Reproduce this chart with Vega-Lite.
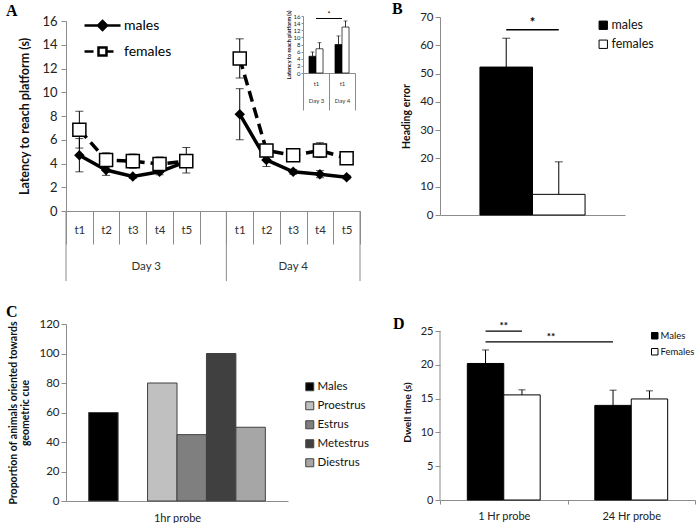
{
  "$schema": "https://vega.github.io/schema/vega-lite/v6.json",
  "background": "white",
  "padding": {"left": 6, "top": 0, "right": 0, "bottom": 0},
  "config": {
    "font": "Lato",
    "view": {"stroke": null},
    "axis": {"grid": false, "domainColor": "#8c8c8c", "tickColor": "#8c8c8c", "labelColor": "#222222", "titleColor": "#111111", "labelFont": "Lato", "titleFont": "Lato", "labelOverlap": false},
    "legend": {"labelFont": "Lato", "labelColor": "#111111"},
    "text": {"font": "Lato"}
  },
  "columns": 2,
  "spacing": {"row": 109, "column": 80},
  "bounds": "flush",
  "align": "each",
  "center": {"row": true},
  "resolve": {"scale": {"fill": "independent", "shape": "independent", "xOffset": "independent", "stroke": "independent"}, "legend": {"fill": "independent", "shape": "independent", "stroke": "independent"}},
  "concat": [
    {
      "title": {"text": "A", "anchor": "start", "frame": "group", "dx": -60, "offset": -9, "fontSize": 16, "font": "Liberation Serif", "fontWeight": "bold"},
      "width": 294,
      "height": 190,
      "resolve": {"scale": {"x": "independent", "y": "independent"}, "axis": {"x": "independent", "y": "independent"}},
      "layer": [
        {
          "data": {"values": [
            {"slot": "3|t1", "day": "3", "sex": "males", "v": 4.7, "lo": 3.3, "hi": 6.1},
            {"slot": "3|t2", "day": "3", "sex": "males", "v": 3.45, "lo": 3.0, "hi": 3.9},
            {"slot": "3|t3", "day": "3", "sex": "males", "v": 2.9, "lo": 2.75, "hi": 3.05},
            {"slot": "3|t4", "day": "3", "sex": "males", "v": 3.3, "lo": 3.05, "hi": 3.55},
            {"slot": "3|t5", "day": "3", "sex": "males", "v": 4.15, "lo": 3.7, "hi": 4.6},
            {"slot": "4|t1", "day": "4", "sex": "males", "v": 8.15, "lo": 6.0, "hi": 10.3},
            {"slot": "4|t2", "day": "4", "sex": "males", "v": 4.3, "lo": 3.75, "hi": 4.85},
            {"slot": "4|t3", "day": "4", "sex": "males", "v": 3.3, "lo": 3.1, "hi": 3.5},
            {"slot": "4|t4", "day": "4", "sex": "males", "v": 3.1, "lo": 2.8, "hi": 3.4},
            {"slot": "4|t5", "day": "4", "sex": "males", "v": 2.85, "lo": 2.7, "hi": 3.0},
            {"slot": "3|t1", "day": "3", "sex": "females", "v": 6.85, "lo": 5.3, "hi": 8.4},
            {"slot": "3|t2", "day": "3", "sex": "females", "v": 4.3, "lo": 3.7, "hi": 4.9},
            {"slot": "3|t3", "day": "3", "sex": "females", "v": 4.2, "lo": 3.6, "hi": 4.8},
            {"slot": "3|t4", "day": "3", "sex": "females", "v": 3.95, "lo": 3.35, "hi": 4.55},
            {"slot": "3|t5", "day": "3", "sex": "females", "v": 4.2, "lo": 3.2, "hi": 5.35},
            {"slot": "4|t1", "day": "4", "sex": "females", "v": 12.85, "lo": 11.2, "hi": 14.5},
            {"slot": "4|t2", "day": "4", "sex": "females", "v": 5.1, "lo": 4.7, "hi": 5.5},
            {"slot": "4|t3", "day": "4", "sex": "females", "v": 4.7, "lo": 4.5, "hi": 4.9},
            {"slot": "4|t4", "day": "4", "sex": "females", "v": 5.1, "lo": 4.5, "hi": 5.75},
            {"slot": "4|t5", "day": "4", "sex": "females", "v": 4.45, "lo": 4.25, "hi": 4.65}
          ]},
          "layer": [
            {
              "mark": {"type": "rule", "color": "black", "strokeWidth": 1},
              "encoding": {
                "x": {"field": "slot", "type": "nominal", "sort": null,
                  "scale": {"domain": ["3|t1", "3|t2", "3|t3", "3|t4", "3|t5", "3|", "4|t1", "4|t2", "4|t3", "4|t4", "4|t5"], "paddingInner": 0, "paddingOuter": 0},
                  "axis": {"title": null, "tickBand": "extent", "tickSize": 33, "labelExpr": "datum.value ? split(datum.value, '|')[1] : ''", "labelPadding": -14, "labelBaseline": "middle", "labelAngle": 0, "labelFontSize": 11.5, "labelColor": "#333333"}},
                "y": {"field": "lo", "type": "quantitative", "scale": {"domain": [0, 16.001], "nice": false},
                  "axis": {"tickCount": 9, "values": [0, 2, 4, 6, 8, 10, 12, 14, 16], "title": "Latency to reach platform (s)", "titleFontSize": 12.5, "titleFontWeight": "bold", "titlePadding": 10, "labelFontSize": 13, "tickSize": 5, "labelPadding": 4}},
                "y2": {"field": "hi"}
              }
            },
            {
              "mark": {"type": "tick", "color": "black", "thickness": 1, "size": 8},
              "encoding": {"x": {"field": "slot", "type": "nominal"}, "y": {"field": "lo", "type": "quantitative"}}
            },
            {
              "mark": {"type": "tick", "color": "black", "thickness": 1, "size": 8},
              "encoding": {"x": {"field": "slot", "type": "nominal"}, "y": {"field": "hi", "type": "quantitative"}}
            },
            {
              "transform": [{"filter": "datum.sex === 'males'"}],
              "mark": {"type": "line", "color": "black", "strokeWidth": 3.5},
              "encoding": {"x": {"field": "slot", "type": "nominal"}, "y": {"field": "v", "type": "quantitative"}, "detail": {"field": "day"}}
            },
            {
              "transform": [{"filter": "datum.sex === 'females'"}],
              "mark": {"type": "line", "color": "black", "strokeWidth": 3.5, "strokeDash": [11, 6]},
              "encoding": {"x": {"field": "slot", "type": "nominal"}, "y": {"field": "v", "type": "quantitative"}, "detail": {"field": "day"}}
            },
            {
              "transform": [{"filter": "datum.sex === 'males'"}],
              "mark": {"type": "point", "shape": "diamond", "filled": true, "color": "black", "opacity": 1, "size": 110},
              "encoding": {"x": {"field": "slot", "type": "nominal"}, "y": {"field": "v", "type": "quantitative"}}
            },
            {
              "transform": [{"filter": "datum.sex === 'females'"}],
              "mark": {"type": "point", "shape": "square", "filled": true, "fill": "white", "stroke": "black", "strokeWidth": 1.5, "opacity": 1, "size": 170},
              "encoding": {"x": {"field": "slot", "type": "nominal"}, "y": {"field": "v", "type": "quantitative"}}
            },
            {
              "transform": [{"filter": "false"}],
              "mark": {"type": "point", "filled": true, "strokeWidth": 2.5, "opacity": 1},
              "encoding": {
                "x": {"field": "slot", "type": "nominal"},
                "y": {"field": "v", "type": "quantitative"},
                "shape": {"field": "sex", "type": "nominal", "scale": {"domain": ["males", "females"], "range": ["M-4.83,0H1.17M-1.83,-0.75L-1.08,0L-1.83,0.75L-2.58,0Z", "M-4.83,0H-3.33M-2.5,-0.67H-1.17V0.67H-2.5ZM-1.17,0H0"]},
                  "legend": {"title": null, "orient": "none", "legendX": 40, "legendY": -3, "symbolSize": 144, "symbolStrokeColor": "black", "symbolStrokeWidth": 2.5, "symbolOpacity": 1, "labelFontSize": 14, "labelOffset": 3, "rowPadding": 7, "padding": 0, "labelColor": "black"}},
                "fill": {"field": "sex", "type": "nominal", "scale": {"domain": ["males", "females"], "range": ["black", "white"]},
                  "legend": {"title": null, "orient": "none", "legendX": 40, "legendY": -3, "symbolSize": 144, "symbolStrokeColor": "black", "symbolStrokeWidth": 2.5, "symbolOpacity": 1, "labelFontSize": 14, "labelOffset": 3, "rowPadding": 7, "padding": 0, "labelColor": "black"}},
                "stroke": {"field": "sex", "type": "nominal", "scale": {"domain": ["males", "females"], "range": ["black", "black"]},
                  "legend": {"title": null, "orient": "none", "legendX": 40, "legendY": -3, "symbolSize": 144, "symbolStrokeColor": "black", "symbolStrokeWidth": 2.5, "symbolOpacity": 1, "labelFontSize": 14, "labelOffset": 3, "rowPadding": 7, "padding": 0, "labelColor": "black"}}
              }
            },
            {
              "data": {"values": [{"slot": "3|t1"}, {"slot": "4|t1"}]},
              "mark": {"type": "rule", "color": "#8c8c8c"},
              "encoding": {"x": {"field": "slot", "type": "nominal", "bandPosition": 0}, "y": {"datum": 0}, "y2": {"datum": -5.9}}
            },
            {
              "data": {"values": [{"slot": "4|t5"}]},
              "mark": {"type": "rule", "color": "#8c8c8c"},
              "encoding": {"x": {"field": "slot", "type": "nominal", "bandPosition": 1}, "y": {"datum": 0}, "y2": {"datum": -5.9}}
            },
            {
              "data": {"values": [{"slot": "3|t4", "label": "Day 3"}]},
              "mark": {"type": "text", "fontSize": 11.5, "color": "#333333"},
              "encoding": {"x": {"field": "slot", "type": "nominal", "bandPosition": 0}, "y": {"datum": -4.7}, "text": {"field": "label"}}
            },
            {
              "data": {"values": [{"slot": "4|t3", "label": "Day 4"}]},
              "mark": {"type": "text", "fontSize": 11.5, "color": "#333333"},
              "encoding": {"x": {"field": "slot", "type": "nominal", "bandPosition": 0.5}, "y": {"datum": -4.7}, "text": {"field": "label"}}
            }
          ]
        },
        {
          "data": {"values": [
            {"day": "3", "sex": "males", "v": 4.7, "hi": 5.9},
            {"day": "3", "sex": "females", "v": 6.8, "hi": 8.5},
            {"day": "4", "sex": "males", "v": 8.0, "hi": 10.4},
            {"day": "4", "sex": "females", "v": 12.9, "hi": 14.6}
          ]},
          "layer": [
            {
              "mark": {"type": "bar", "stroke": "black", "strokeWidth": 0.7},
              "encoding": {
                "x": {"field": "day", "type": "nominal", "sort": null,
                  "scale": {"domain": ["3", "4"], "range": [237, 289], "paddingInner": 0, "paddingOuter": 0},
                  "axis": {"orient": "bottom", "offset": -138, "title": null, "tickBand": "extent", "tickSize": 37, "labelExpr": "datum.value ? ['t1', 'Day ' + datum.value] : ''", "labelLineHeight": 17, "labelFontSize": 6, "labelPadding": -30, "labelBaseline": "top", "labelAngle": 0, "labelColor": "#333333"}},
                "xOffset": {"field": "sex", "type": "nominal", "sort": null, "scale": {"domain": ["males", "females"], "paddingInner": 0, "paddingOuter": 0.85}},
                "y": {"field": "v", "type": "quantitative", "scale": {"domain": [0, 16.001], "nice": false, "range": [52, -5]},
                  "axis": {"orient": "left", "offset": -237, "tickCount": 9, "values": [0, 2, 4, 6, 8, 10, 12, 14, 16], "title": "Latency to reach platform (s)", "titleFontSize": 5.5, "titleFontWeight": "bold", "titlePadding": 2, "labelFontSize": 6, "tickSize": 2, "labelPadding": 1}},
                "fill": {"field": "sex", "type": "nominal", "scale": {"domain": ["males", "females"], "range": ["black", "white"]}, "legend": null}
              }
            },
            {
              "mark": {"type": "rule", "color": "black", "strokeWidth": 0.8},
              "encoding": {"x": {"field": "day", "type": "nominal"}, "xOffset": {"field": "sex", "type": "nominal"}, "y": {"field": "v", "type": "quantitative"}, "y2": {"field": "hi"}}
            },
            {
              "mark": {"type": "tick", "color": "black", "thickness": 0.8, "size": 4},
              "encoding": {"x": {"field": "day", "type": "nominal"}, "xOffset": {"field": "sex", "type": "nominal"}, "y": {"field": "hi", "type": "quantitative"}}
            },
            {
              "data": {"values": [{"day": "3", "y": 15.3}, {"day": "4", "y": 15.3}]},
              "mark": {"type": "line", "color": "black", "strokeWidth": 1},
              "encoding": {"x": {"field": "day", "type": "nominal"}, "y": {"field": "y", "type": "quantitative"}}
            },
            {
              "data": {"values": [{"day": "3", "t": "*"}]},
              "mark": {"type": "text", "fontSize": 7, "baseline": "bottom"},
              "encoding": {"x": {"field": "day", "type": "nominal", "bandPosition": 1}, "y": {"datum": 15.3}, "text": {"field": "t"}}
            }
          ]
        }
      ]
    },
    {
      "title": {"text": "B", "anchor": "start", "frame": "group", "dx": -48, "offset": -5.5, "fontSize": 16, "font": "Liberation Serif", "fontWeight": "bold"},
      "width": 185,
      "height": 198,
      "data": {"values": [
        {"sex": "males", "v": 52.3, "hi": 62.5},
        {"sex": "females", "v": 7.3, "hi": 18.8}
      ]},
      "layer": [
        {
          "mark": {"type": "bar", "stroke": "black", "strokeWidth": 1},
          "encoding": {
            "x": {"field": "sex", "type": "nominal", "sort": null, "scale": {"domain": ["males", "females"], "paddingInner": 0, "paddingOuter": 0.76}, "axis": {"title": null, "labels": false, "ticks": false}},
            "y": {"field": "v", "type": "quantitative", "scale": {"domain": [0, 70.001], "nice": false},
              "axis": {"tickCount": 8, "values": [0, 10, 20, 30, 40, 50, 60, 70], "title": "Heading error", "titleFontSize": 10.5, "titleFontWeight": "bold", "titlePadding": 8, "labelFontSize": 11.5, "tickSize": 5}},
            "fill": {"field": "sex", "type": "nominal", "scale": {"domain": ["males", "females"], "range": ["black", "white"]},
              "legend": {"title": null, "orient": "none", "legendX": 157, "legendY": 2, "symbolType": "square", "symbolSize": 70, "symbolStrokeColor": "black", "symbolStrokeWidth": 1, "labelFontSize": 12.5, "labelOffset": 2, "rowPadding": 6, "padding": 0}}
          }
        },
        {
          "mark": {"type": "rule", "color": "black"},
          "encoding": {"x": {"field": "sex", "type": "nominal"}, "y": {"field": "v", "type": "quantitative"}, "y2": {"field": "hi"}}
        },
        {
          "mark": {"type": "tick", "color": "black", "thickness": 1, "size": 8},
          "encoding": {"x": {"field": "sex", "type": "nominal"}, "y": {"field": "hi", "type": "quantitative"}}
        },
        {
          "data": {"values": [{"sex": "males", "y": 65.5}, {"sex": "females", "y": 65.5}]},
          "mark": {"type": "line", "color": "black", "strokeWidth": 1.3},
          "encoding": {"x": {"field": "sex", "type": "nominal"}, "y": {"field": "y", "type": "quantitative"}}
        },
        {
          "data": {"values": [{"sex": "males", "t": "*"}]},
          "mark": {"type": "text", "fontSize": 13, "fontWeight": "bold", "baseline": "bottom"},
          "encoding": {"x": {"field": "sex", "type": "nominal", "bandPosition": 1}, "y": {"datum": 65.5}, "text": {"field": "t"}}
        }
      ]
    },
    {
      "title": {"text": "C", "anchor": "start", "frame": "group", "dx": -60, "offset": -2, "fontSize": 16, "font": "Liberation Serif", "fontWeight": "bold"},
      "width": 222,
      "height": 177,
      "data": {"values": [
        {"cat": "Males", "v": 60},
        {"cat": "Proestrus", "v": 80},
        {"cat": "Estrus", "v": 45},
        {"cat": "Metestrus", "v": 100},
        {"cat": "Diestrus", "v": 50}
      ]},
      "mark": {"type": "bar", "stroke": "#404040", "strokeWidth": 1},
      "encoding": {
        "x": {"field": "cat", "type": "nominal", "sort": null,
          "scale": {"domain": ["Males", "gap", "Proestrus", "Estrus", "Metestrus", "Diestrus"], "paddingInner": 0, "paddingOuter": 0.77},
          "axis": {"title": "1hr probe", "labels": false, "ticks": false, "titleFontSize": 11, "titleFontWeight": "normal", "titlePadding": 11, "titleColor": "#222222"}},
        "y": {"field": "v", "type": "quantitative", "scale": {"domain": [0, 120.01], "nice": false},
          "axis": {"tickCount": 7, "values": [0, 20, 40, 60, 80, 100, 120], "title": ["Proportion of animals oriented towards", "geometric cue"], "titleFontSize": 10.5, "titleFontWeight": "bold", "titlePadding": 8, "labelFontSize": 11.5, "tickSize": 5}},
        "fill": {"field": "cat", "type": "nominal", "scale": {"domain": ["Males", "Proestrus", "Estrus", "Metestrus", "Diestrus"], "range": ["#000000", "#c0c0c0", "#7f7f7f", "#404040", "#a6a6a6"]},
          "legend": {"title": null, "orient": "none", "legendX": 238, "legendY": 57, "symbolType": "square", "symbolSize": 64, "symbolStrokeColor": "#404040", "symbolStrokeWidth": 1, "labelFontSize": 11.5, "labelOffset": 2, "rowPadding": 6, "padding": 0}}
      }
    },
    {
      "title": {"text": "D", "anchor": "start", "frame": "group", "dx": -47, "offset": -11, "fontSize": 16, "font": "Liberation Serif", "fontWeight": "bold"},
      "width": 255,
      "height": 176,
      "data": {"values": [
        {"probe": "1 Hr probe", "sex": "Males", "v": 20.2, "hi": 22.2},
        {"probe": "1 Hr probe", "sex": "Females", "v": 15.55, "hi": 16.3},
        {"probe": "24 Hr probe", "sex": "Males", "v": 14.0, "hi": 16.25},
        {"probe": "24 Hr probe", "sex": "Females", "v": 14.95, "hi": 16.15}
      ]},
      "layer": [
        {
          "mark": {"type": "bar", "stroke": "black", "strokeWidth": 1},
          "encoding": {
            "x": {"field": "probe", "type": "nominal", "sort": null, "scale": {"domain": ["1 Hr probe", "24 Hr probe"], "paddingInner": 0, "paddingOuter": 0},
              "axis": {"title": null, "labelAngle": 0, "labelFontSize": 11, "tickBand": "extent", "tickSize": 4, "labelPadding": 6}},
            "xOffset": {"field": "sex", "type": "nominal", "sort": null, "scale": {"domain": ["Males", "Females"], "paddingInner": 0, "paddingOuter": 0.75}},
            "y": {"field": "v", "type": "quantitative", "scale": {"domain": [0, 26.04], "nice": false},
              "axis": {"tickCount": 6, "values": [0, 5, 10, 15, 20, 25], "domain": false, "title": "Dwell time (s)", "titleFontSize": 10, "titleFontWeight": "bold", "titlePadding": 8, "labelFontSize": 11, "tickSize": 5}},
            "fill": {"field": "sex", "type": "nominal", "scale": {"domain": ["Males", "Females"], "range": ["black", "white"]},
              "legend": {"title": null, "orient": "none", "legendX": 210, "legendY": 7, "symbolType": "square", "symbolSize": 42, "symbolStrokeColor": "black", "symbolStrokeWidth": 1, "labelFontSize": 9.5, "labelOffset": 1, "rowPadding": 5, "padding": 0}}
          }
        },
        {
          "data": {"values": [{"probe": "1 Hr probe"}]},
          "mark": {"type": "rule", "color": "#8c8c8c"},
          "encoding": {"x": {"field": "probe", "type": "nominal", "bandPosition": 0}, "y": {"datum": 0}, "y2": {"datum": 25}}
        },
        {
          "mark": {"type": "rule", "color": "black"},
          "encoding": {"x": {"field": "probe", "type": "nominal"}, "xOffset": {"field": "sex", "type": "nominal"}, "y": {"field": "v", "type": "quantitative"}, "y2": {"field": "hi"}}
        },
        {
          "mark": {"type": "tick", "color": "black", "thickness": 1, "size": 7},
          "encoding": {"x": {"field": "probe", "type": "nominal"}, "xOffset": {"field": "sex", "type": "nominal"}, "y": {"field": "hi", "type": "quantitative"}}
        },
        {
          "data": {"values": [
            {"id": "a", "probe": "1 Hr probe", "sex": "Males", "y": 25},
            {"id": "a", "probe": "1 Hr probe", "sex": "Females", "y": 25},
            {"id": "b", "probe": "1 Hr probe", "sex": "Males", "y": 23.4},
            {"id": "b", "probe": "24 Hr probe", "sex": "Males", "y": 23.4}
          ]},
          "mark": {"type": "line", "color": "black", "strokeWidth": 1.3},
          "encoding": {"x": {"field": "probe", "type": "nominal"}, "xOffset": {"field": "sex", "type": "nominal"}, "y": {"field": "y", "type": "quantitative"}, "detail": {"field": "id"}}
        },
        {
          "data": {"values": [{"probe": "1 Hr probe", "t": "**", "y": 25}]},
          "mark": {"type": "text", "fontSize": 10, "fontWeight": "bold", "baseline": "bottom"},
          "encoding": {"x": {"field": "probe", "type": "nominal"}, "y": {"field": "y", "type": "quantitative"}, "text": {"field": "t"}}
        },
        {
          "data": {"values": [{"probe": "1 Hr probe", "t": "**", "y": 23.4}]},
          "mark": {"type": "text", "fontSize": 10, "fontWeight": "bold", "baseline": "bottom"},
          "encoding": {"x": {"field": "probe", "type": "nominal", "bandPosition": 0.87}, "y": {"field": "y", "type": "quantitative"}, "text": {"field": "t"}}
        }
      ]
    }
  ]
}
